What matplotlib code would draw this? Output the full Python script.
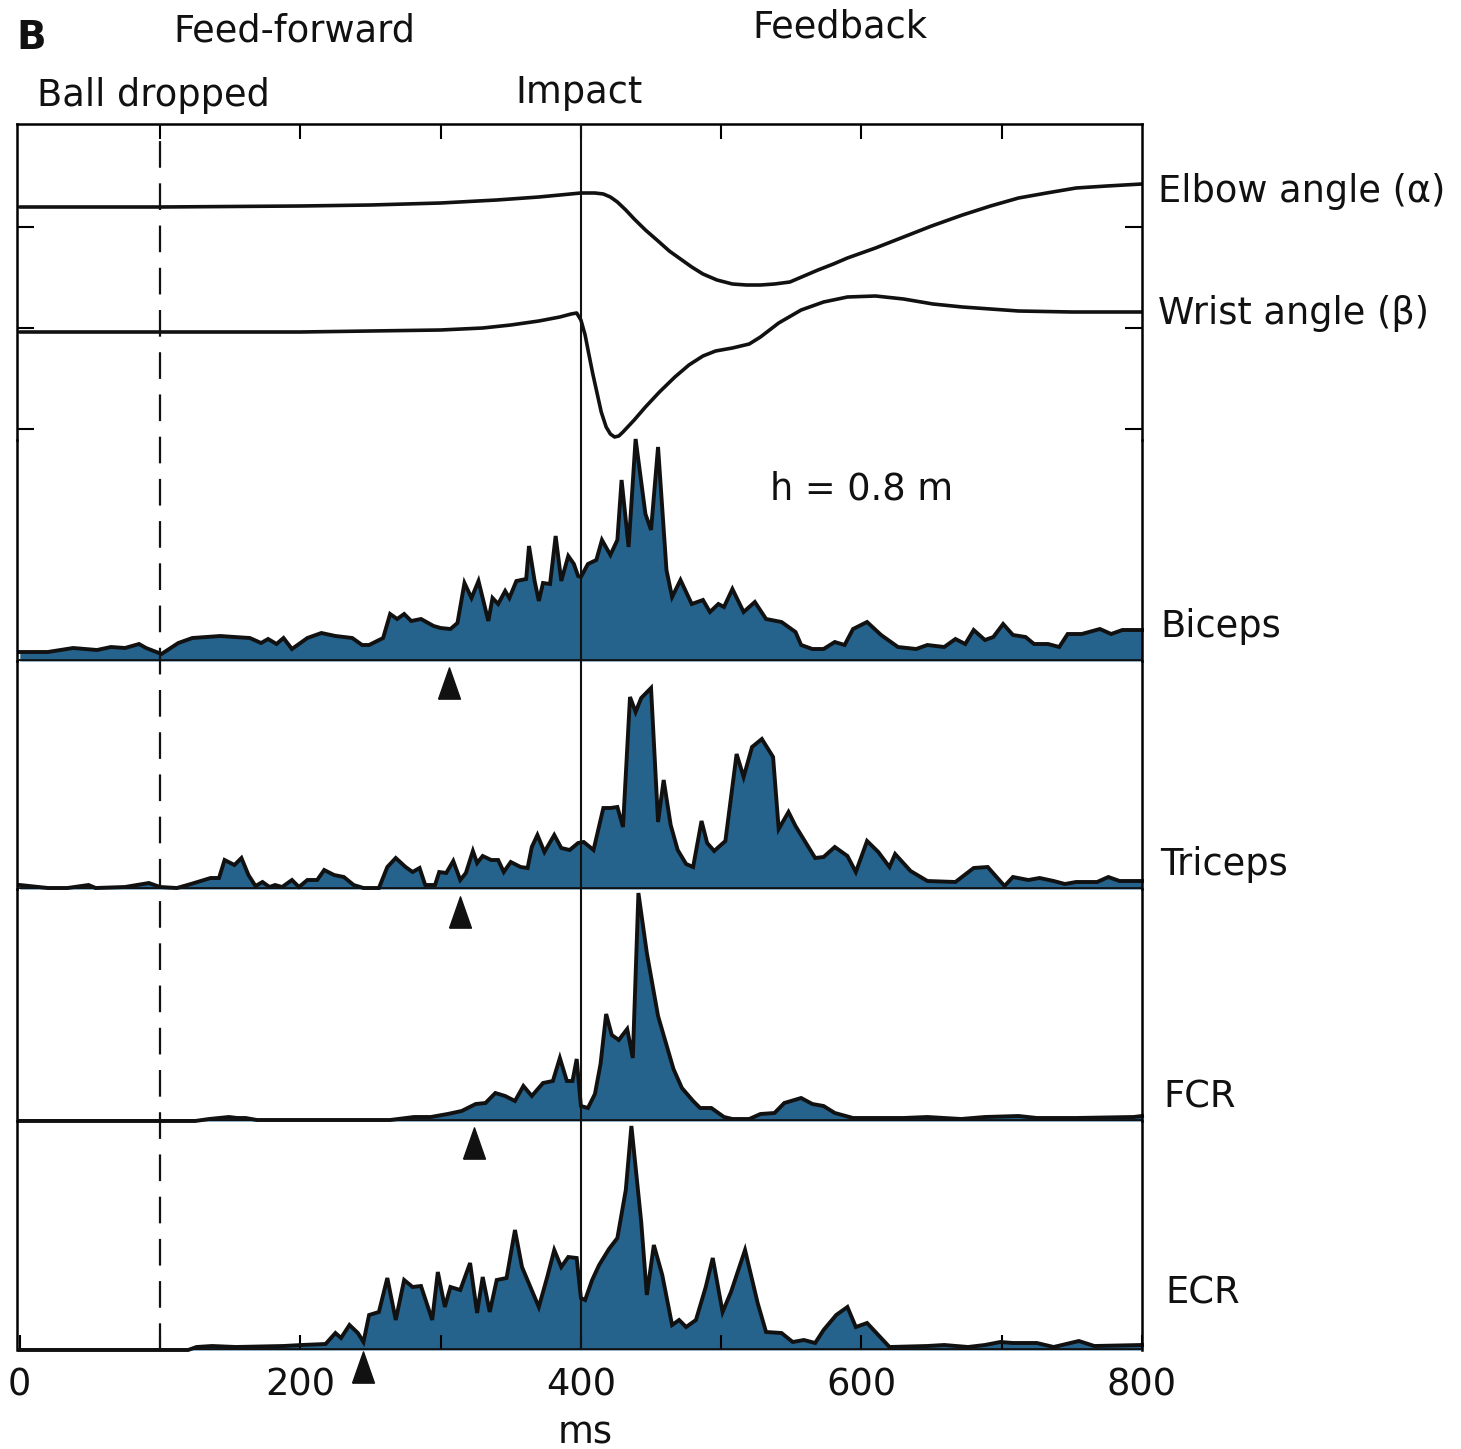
import matplotlib
matplotlib.use("Agg")
import matplotlib.pyplot as plt
import numpy as np

# ---------------------------------------------------------------- data
# time in ms after trial start; ball released at 100 ms, impact at 400 ms
ball_drop_ms = 100
impact_ms = 400
x_ticks = [0, 100, 200, 300, 400, 500, 600, 700, 800]
x_tick_labels = ["0", "", "200", "", "400", "", "600", "", "800"]

# joint angles, deviation from the resting posture (arbitrary units, up = extension)
elbow_t = [0, 100, 200, 250, 300, 340, 370, 385, 400, 410, 416, 421, 426, 432,
           438, 446, 455, 463, 471, 479, 487, 497, 508, 518, 528, 538, 549, 559,
           569, 580, 590, 610, 630, 650, 672, 692, 712, 732, 753, 775, 800]
elbow_dev = [0, 0, 1, 2, 4, 7, 10, 12, 14, 14, 13, 10, 5, -3, -12, -23, -34, -44,
             -52, -60, -67, -73, -77, -78, -78, -77, -75, -69, -63, -57, -51, -41,
             -30, -19, -8, 1, 9, 14, 19, 21, 23]

wrist_t = [0, 100, 200, 250, 300, 330, 350, 370, 385, 393, 397, 400, 403, 405.5,
           408.5, 411.5, 414.5, 418, 421, 424, 427, 430, 438, 446, 456, 467, 477,
           487, 496, 508, 520, 528, 541, 557, 573, 590, 610, 630, 651, 672, 712,
           750, 800]
wrist_dev = [0, 0, 0, 1, 2, 4, 7, 11, 15, 18, 19, 12, -3, -21, -42, -61, -80,
             -95, -102, -105, -104, -100, -88, -75, -60, -45, -33, -24, -19, -16,
             -12, -5, 9, 22, 30, 35, 36, 33, 28, 25, 21, 20, 20]

# rectified EMG envelopes (arbitrary units)
biceps_t = [0, 20, 38, 55, 65, 75, 85, 90, 101, 113, 123, 133, 143, 153, 164, 172,
            177, 183, 188, 194, 205, 215, 225, 237, 244, 249, 259, 264, 269, 274,
            279, 286, 295, 300, 307, 312, 317, 322, 327, 334, 337, 341, 346, 349,
            354, 361, 363, 367, 370, 373, 378, 382, 386, 391, 395, 398,
            400, 405, 411, 415, 421, 426, 429, 434, 439, 446, 450, 455, 461, 465,
            471, 479, 487, 492, 498, 502, 508, 516, 524, 532, 543, 553, 557, 565,
            573, 581, 588, 594, 604, 614, 626, 639, 647, 659, 667, 674, 680, 688,
            694, 701, 708, 717, 723, 733, 741, 747, 757, 770, 778, 786, 800]
biceps_amp = [9, 9, 13, 11, 14, 13, 17, 13, 7, 18, 23, 24, 25, 24, 23, 18, 22, 17,
              23, 12, 23, 28, 25, 23, 16, 16, 23, 47, 42, 47, 40, 42, 35, 33, 32,
              38, 78, 63, 80, 40, 63, 57, 70, 63, 80, 82, 115, 80, 60, 78, 77, 125,
              80, 105, 97, 85,
              84, 97, 101, 121, 106, 121, 181, 114, 222, 147, 131, 214, 91, 64, 81,
              57, 61, 49, 57, 54, 72, 49, 59, 42, 39, 29, 16, 12, 12, 19, 16, 32,
              39, 26, 14, 12, 16, 14, 22, 17, 31, 21, 24, 37, 26, 24, 17, 17, 14,
              27, 27, 32, 27, 31, 31]

triceps_t = [0, 20, 34, 49, 54, 75, 92, 100, 112, 122, 136, 142, 146, 153, 158, 163,
             168, 173, 178, 182, 187, 194, 199, 205, 212, 217, 224, 231, 238, 245,
             256, 262, 268, 275, 280, 285, 289, 296, 299, 304, 309, 314, 318, 323,
             326, 330, 336, 341, 345, 350, 357, 362, 365, 369, 374, 381, 386, 392,
             398, 402, 409, 416, 421, 426, 430, 435, 439, 443, 450, 455, 459, 464,
             469, 475, 480, 486, 490, 495, 503, 511, 516, 522, 529, 537, 541, 548,
             553, 567, 573, 581, 590, 596, 604, 612, 620, 624, 635, 647, 667, 680,
             690, 702, 708, 719, 727, 737, 745, 753, 768, 776, 784, 800]
triceps_amp = [4, 1, 1, 4, 1, 2, 6, 2, 1, 5, 11, 11, 29, 24, 31, 14, 3, 7, 2, 4, 2,
               9, 2, 9, 9, 19, 14, 12, 4, 1, 1, 22, 31, 22, 17, 21, 4, 4, 17, 16,
               28, 9, 16, 38, 26, 33, 29, 29, 17, 27, 22, 21, 42, 54, 37, 54, 41,
               39, 46, 47, 39, 81, 81, 82, 62, 192, 177, 191, 201, 67, 109, 64, 39,
               25, 22, 68, 46, 38, 48, 135, 112, 142, 150, 132, 60, 77, 63, 31, 32,
               42, 33, 17, 48, 37, 22, 35, 18, 8, 7, 21, 22, 3, 12, 9, 11, 8, 5, 7,
               7, 12, 8, 8]

fcr_t = [0, 125, 135, 142, 149, 155, 161, 169, 264, 281, 293, 305, 315, 325, 332,
         339, 346, 353, 359, 365, 373, 380, 385, 390, 394, 397, 400, 405, 410, 414,
         418, 422, 427, 433, 437, 441, 447, 455, 466, 472, 480, 485, 493, 502, 508,
         520, 528, 538, 545, 557, 565, 573, 581, 594, 630, 647, 671, 688, 712, 725,
         753, 794, 800]
fcr_amp = [0, 0, 2, 3, 4, 3, 3, 1, 1, 4, 4, 7, 10, 17, 18, 28, 25, 20, 35, 25, 38,
           40, 63, 40, 40, 62, 15, 13, 27, 57, 107, 86, 81, 92, 63, 228, 168, 105,
           52, 33, 20, 13, 13, 4, 2, 2, 7, 8, 18, 23, 17, 15, 8, 3, 3, 4, 2, 4, 5,
           3, 3, 4, 5]

ecr_t = [0, 120, 126, 137, 154, 188, 201, 218, 225, 229, 235, 241, 245, 249, 256,
         262, 268, 274, 280, 286, 294, 298, 303, 307, 314, 321, 326, 330, 335, 340,
         347, 353, 358, 364, 370, 376, 381, 386, 391, 397, 400, 403, 408, 413, 420,
         426, 432, 436, 443, 447, 452, 458, 465, 470, 475, 482, 489, 494, 501, 507,
         517, 526, 532, 543, 551, 559, 567, 573, 582, 590, 596, 604, 612, 620, 647,
         659, 676, 688, 699, 708, 725, 737, 755, 766, 800]
ecr_amp = [0, 0, 3, 4, 3, 4, 5, 6, 17, 12, 25, 17, 8, 35, 38, 72, 30, 70, 63, 64,
           30, 78, 43, 63, 60, 87, 37, 73, 38, 70, 72, 120, 83, 63, 43, 73, 100, 83,
           93, 92, 52, 50, 70, 85, 101, 112, 160, 224, 128, 55, 105, 75, 25, 30, 23,
           30, 63, 92, 38, 58, 100, 47, 18, 17, 8, 10, 7, 20, 35, 43, 23, 27, 15, 3,
           4, 5, 3, 5, 8, 7, 7, 3, 9, 4, 5]

muscles = ["Biceps", "Triceps", "FCR", "ECR"]
emg_onset_ms = [306, 314, 324, 245]

# ---------------------------------------------------------------- layout
W, H = 1461, 1449
FILL = "#25638c"
INK = "#111111"
FONT = "DejaVu Sans"
FS = 26.5

plt.rcParams["font.family"] = [FONT]

fig = plt.figure(figsize=(W / 100, H / 100), dpi=100)
fig.patch.set_facecolor("white")


def box(left, top, right, bottom):
    return [left / W, 1 - bottom / H, (right - left) / W, (bottom - top) / H]


def ftext(x, y, s, **kw):
    kw.setdefault("fontsize", FS)
    kw.setdefault("color", INK)
    kw.setdefault("va", "baseline")
    fig.text(x / W, 1 - y / H, s, **kw)


XL, XR = 17, 1142
XLIM = (-2, 800)
FRAME_LW = 1.8

# joint-angle panel
ax_ang = fig.add_axes(box(XL, 124, XR, 440))
ax_ang.set_xlim(*XLIM)
ax_ang.set_ylim(0, 316)
ax_ang.patch.set_visible(False)
elbow_rest, wrist_rest = 233, 108
ax_ang.plot(elbow_t, elbow_rest + np.array(elbow_dev), color=INK, lw=2.6,
            solid_joinstyle="round", solid_capstyle="round")
ax_ang.plot(wrist_t, wrist_rest + np.array(wrist_dev), color=INK, lw=2.6,
            solid_joinstyle="round", solid_capstyle="round")
for side in ("top", "left", "right"):
    ax_ang.spines[side].set_linewidth(FRAME_LW)
ax_ang.spines["bottom"].set_visible(False)
ax_ang.set_xticks(x_ticks[1:-1])
ax_ang.tick_params(axis="x", top=True, bottom=False, direction="in", length=11,
                   width=1.5, labelbottom=False, labeltop=False)
ax_ang.set_yticks([213, 112, 11])
ax_ang.tick_params(axis="y", left=True, right=True, direction="in", length=12,
                   width=1.5, labelleft=False, labelright=False)

# EMG panels
emg_t = [biceps_t, triceps_t, fcr_t, ecr_t]
emg_amp = [biceps_amp, triceps_amp, fcr_amp, ecr_amp]
panel_rows = [(440, 661), (661, 889), (889, 1121), (1121, 1350)]
arrow_gap = [22, 23, 22, 17]
tri = [(-0.35, -0.5), (0.35, -0.5), (0.0, 0.5), (-0.35, -0.5)]

emg_axes = []
for i, (top, bot) in enumerate(panel_rows):
    ax = fig.add_axes(box(XL, top, XR, bot))
    ax.set_xlim(*XLIM)
    ax.set_ylim(0, bot - top)
    ax.patch.set_visible(False)
    t = np.array(emg_t[i], float)
    a = np.array(emg_amp[i], float)
    ax.fill_between(t, 0, a, color=FILL, lw=0, zorder=1)
    ax.plot(t, a, color=INK, lw=2.8, solid_joinstyle="miter", zorder=2,
            clip_on=False)
    ax.axhline(0, color=INK, lw=3.4, zorder=3)
    ax.spines["top"].set_visible(False)
    ax.spines["bottom"].set_visible(False)
    for side in ("left", "right"):
        ax.spines[side].set_linewidth(FRAME_LW)
    ax.set_yticks([])
    ax.plot([emg_onset_ms[i]], [-arrow_gap[i]], marker=tri, ms=22.5, color=INK,
            mec=INK, clip_on=False, zorder=6)
    if i < 3:
        ax.set_xticks([])
    else:
        ax.set_xticks(x_ticks)
        ax.set_xticklabels(x_tick_labels, fontsize=FS, color=INK)
        ax.tick_params(axis="x", direction="in", length=11, width=1.5, pad=12)
    emg_axes.append(ax)

# event markers spanning all panels
ax_ov = fig.add_axes(box(XL, 124, XR, 1350), zorder=10)
ax_ov.set_xlim(*XLIM)
ax_ov.set_ylim(0, 1)
ax_ov.axis("off")
ax_ov.axvline(ball_drop_ms, color=INK, lw=1.6, ls=(0, (12, 7)))
ax_ov.axvline(impact_ms, color=INK, lw=1.5)

# annotations
ftext(16, 49, "B", fontsize=28, fontweight="bold")
ftext(173, 42, "Feed-forward")
ftext(752, 38, "Feedback")
ftext(37, 106, "Ball dropped")
ftext(515, 103, "Impact")
ftext(1158, 202, "Elbow angle (\u03b1)")
ftext(1158, 324, "Wrist angle (\u03b2)")
ftext(770, 500, "h = 0.8 m")
ftext(1160, 637, "Biceps")
ftext(1160, 875, "Triceps")
ftext(1163, 1107, "FCR")
ftext(1165, 1303, "ECR")
ftext(585, 1443, "ms", ha="center")

fig.savefig("out.png", dpi=100, facecolor="white")
